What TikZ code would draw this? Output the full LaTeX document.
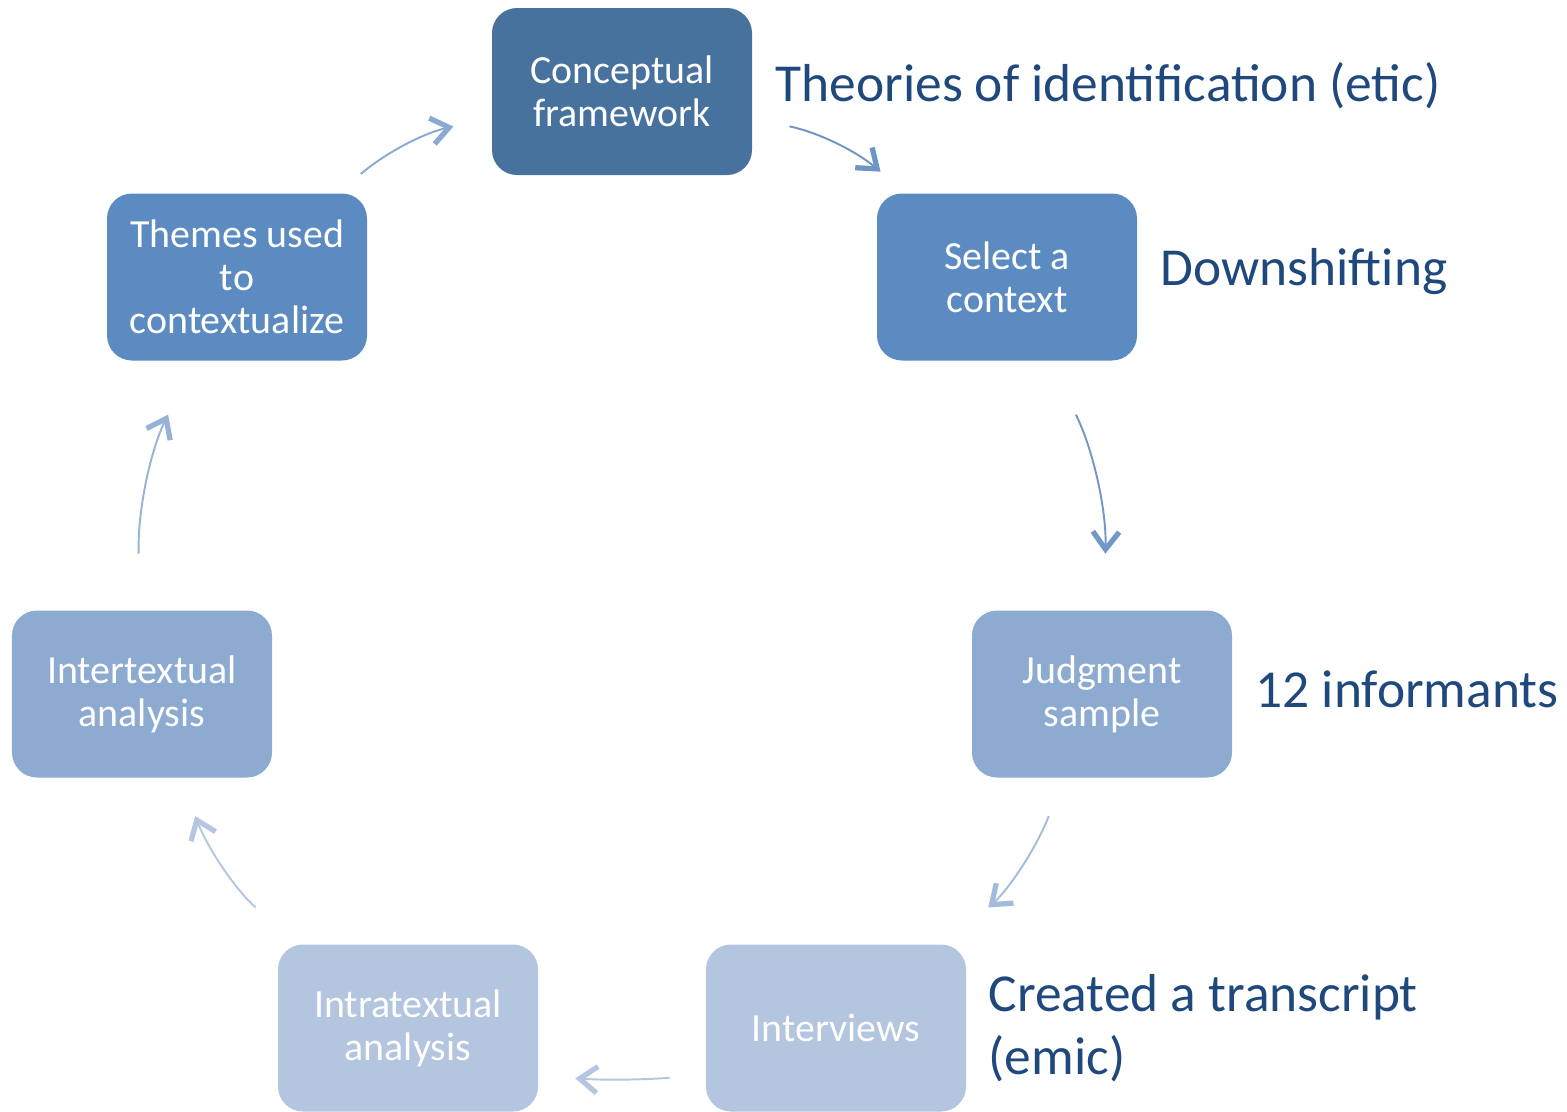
\documentclass[tikz,border=0pt]{standalone}
\usepackage{fontspec}
\setmainfont{Carlito}
\usetikzlibrary{arrows.meta,positioning}

\definecolor{stepdark}{HTML}{48729E}
\definecolor{stepmid}{HTML}{5B8BC1}
\definecolor{steplight}{HTML}{8DAAD0}
\definecolor{steppale}{HTML}{B3C5DF}
\definecolor{notecol}{HTML}{1F497D}
\definecolor{arrowa}{HTML}{8AA9D3}
\definecolor{arrowb}{HTML}{6F95C5}
\definecolor{arrowc}{HTML}{7398C8}
\definecolor{arrowd}{HTML}{A3BCDC}
\definecolor{arrowe}{HTML}{B5C7E0}
\definecolor{arrowf}{HTML}{98B2D6}

\begin{document}
\begin{tikzpicture}[
  box/.style={rounded corners=0.5cm, minimum width=5.2cm, minimum height=3.34cm,
    text=white, align=center, font=\fontsize{22.7}{24.4}\selectfont},
  note/.style={text=notecol, align=left, inner sep=0pt,
    font=\fontsize{30.4}{36}\selectfont},
  cyc/.style={line width=1.1pt,
    -{Straight Barb[length=10pt,width=15pt,line width=3pt]}},
]
\useasboundingbox (0,0) rectangle (31.34,-22.22);

% the steps
\node[box, fill=stepdark] (concept) at (12.44,-1.83) {Conceptual\\framework};
\node[box, fill=stepmid] (select) at (20.14,-5.54) {Select a\\context};
\node[box, fill=steplight] (judgment) at (22.04,-13.88) {Judgment\\sample};
\node[box, fill=steppale] (interviews) at (16.72,-20.56) {Interviews};
\node[box, fill=steppale] (intratext) at (8.16,-20.56) {Intratextual\\analysis};
\node[box, fill=steplight] (intertext) at (2.84,-13.88) {Intertextual\\analysis};
\node[box, fill=stepmid] (themes) at (4.74,-5.54) {Themes used\\to\\contextualize};

% notes beside the steps
\node[note, right=0.46cm of concept, yshift=0.12cm] (conceptnote) {Theories of identification (etic)};
\node[note, right=0.46cm of select, yshift=0.1cm] (selectnote) {Downshifting};
\node[note, right=0.46cm of judgment, yshift=0.1cm] (judgmentnote) {12 informants};
\node[note, right=0.44cm of interviews] (interviewsnote) {Created a transcript\\(emic)};

% the cycle
\draw[cyc, draw=arrowa, shorten <=0.6cm, shorten >=0.78cm] (themes) to[bend left=14] (concept);
\draw[cyc, draw=arrowb, shorten <=0.76cm, shorten >=0.67cm] (concept) to[bend left=14] (select);
\draw[cyc, draw=arrowc, shorten <=1.2cm, shorten >=1.13cm] (select) to[bend left=14] (judgment);
\draw[cyc, draw=arrowd, shorten <=0.82cm, shorten >=1.13cm] (judgment) to[bend left=14] (interviews);
\draw[cyc, draw=arrowe, shorten <=0.72cm, shorten >=0.74cm] ([yshift=-0.94cm]interviews.west) to[bend left=4] ([yshift=-0.96cm]intratext.east);
\draw[cyc, draw=arrowe, shorten <=1.13cm, shorten >=0.82cm] (intratext) to[bend left=14] (intertext);
\draw[cyc, draw=arrowf, shorten <=1.13cm, shorten >=1.2cm] (intertext) to[bend left=14] (themes);
\end{tikzpicture}
\end{document}
